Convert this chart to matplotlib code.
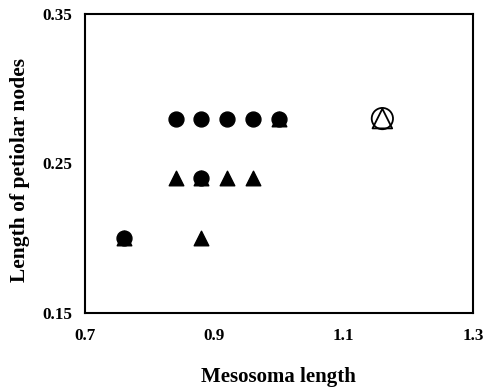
import matplotlib
matplotlib.use("Agg")
import matplotlib.pyplot as plt

plt.rcParams['font.family'] = ['Liberation Serif', 'DejaVu Serif']
plt.rcParams['font.weight'] = 'bold'

circle_x = [0.76, 0.84, 0.88, 0.92, 0.96, 1.00, 0.88]
circle_y = [0.20, 0.28, 0.28, 0.28, 0.28, 0.28, 0.24]
tri_x = [0.76, 0.84, 0.88, 0.92, 0.96, 0.88, 1.00]
tri_y = [0.20, 0.24, 0.24, 0.24, 0.24, 0.20, 0.28]
open_circle_x = [1.16]
open_circle_y = [0.28]
open_tri_x = [1.16]
open_tri_y = [0.28]

xticks = [0.7, 0.9, 1.1, 1.3]
yticks = [0.15, 0.25, 0.35]

fig = plt.figure(figsize=(4.83, 3.91), dpi=100)
ax = fig.add_axes([0.176, 0.1995, 0.803, 0.765])

ax.scatter(circle_x, circle_y, s=115, marker='o', color='black', zorder=3)
ax.scatter(tri_x, tri_y, s=110, marker='^', color='black', zorder=4)
ax.scatter(open_circle_x, open_circle_y, s=235, marker='o', facecolors='none', edgecolors='black', linewidths=1.3, zorder=3)
ax.scatter(open_tri_x, open_tri_y, s=200, marker='^', facecolors='none', edgecolors='black', linewidths=1.3, zorder=4)

ax.set_xlim(0.7, 1.3)
ax.set_ylim(0.15, 0.35)
ax.set_xticks(xticks)
ax.set_yticks(yticks)
ax.set_xticklabels([f"{v:.1f}" for v in xticks])
ax.set_yticklabels([f"{v:.2f}" for v in yticks])
ax.tick_params(length=0, labelsize=12.3)
ax.tick_params(axis='x', pad=10.5)
ax.tick_params(axis='y', pad=9)
for sp in ax.spines.values():
    sp.set_linewidth(1.5)

ax.set_xlabel("Mesosoma length", fontsize=15, fontweight='bold', labelpad=17)
ax.set_ylabel("Length of petiolar nodes", fontsize=15.5, fontweight='bold', va='center')
ax.yaxis.set_label_coords(-0.1675, 0.478)

fig.savefig("out.png", dpi=100)
